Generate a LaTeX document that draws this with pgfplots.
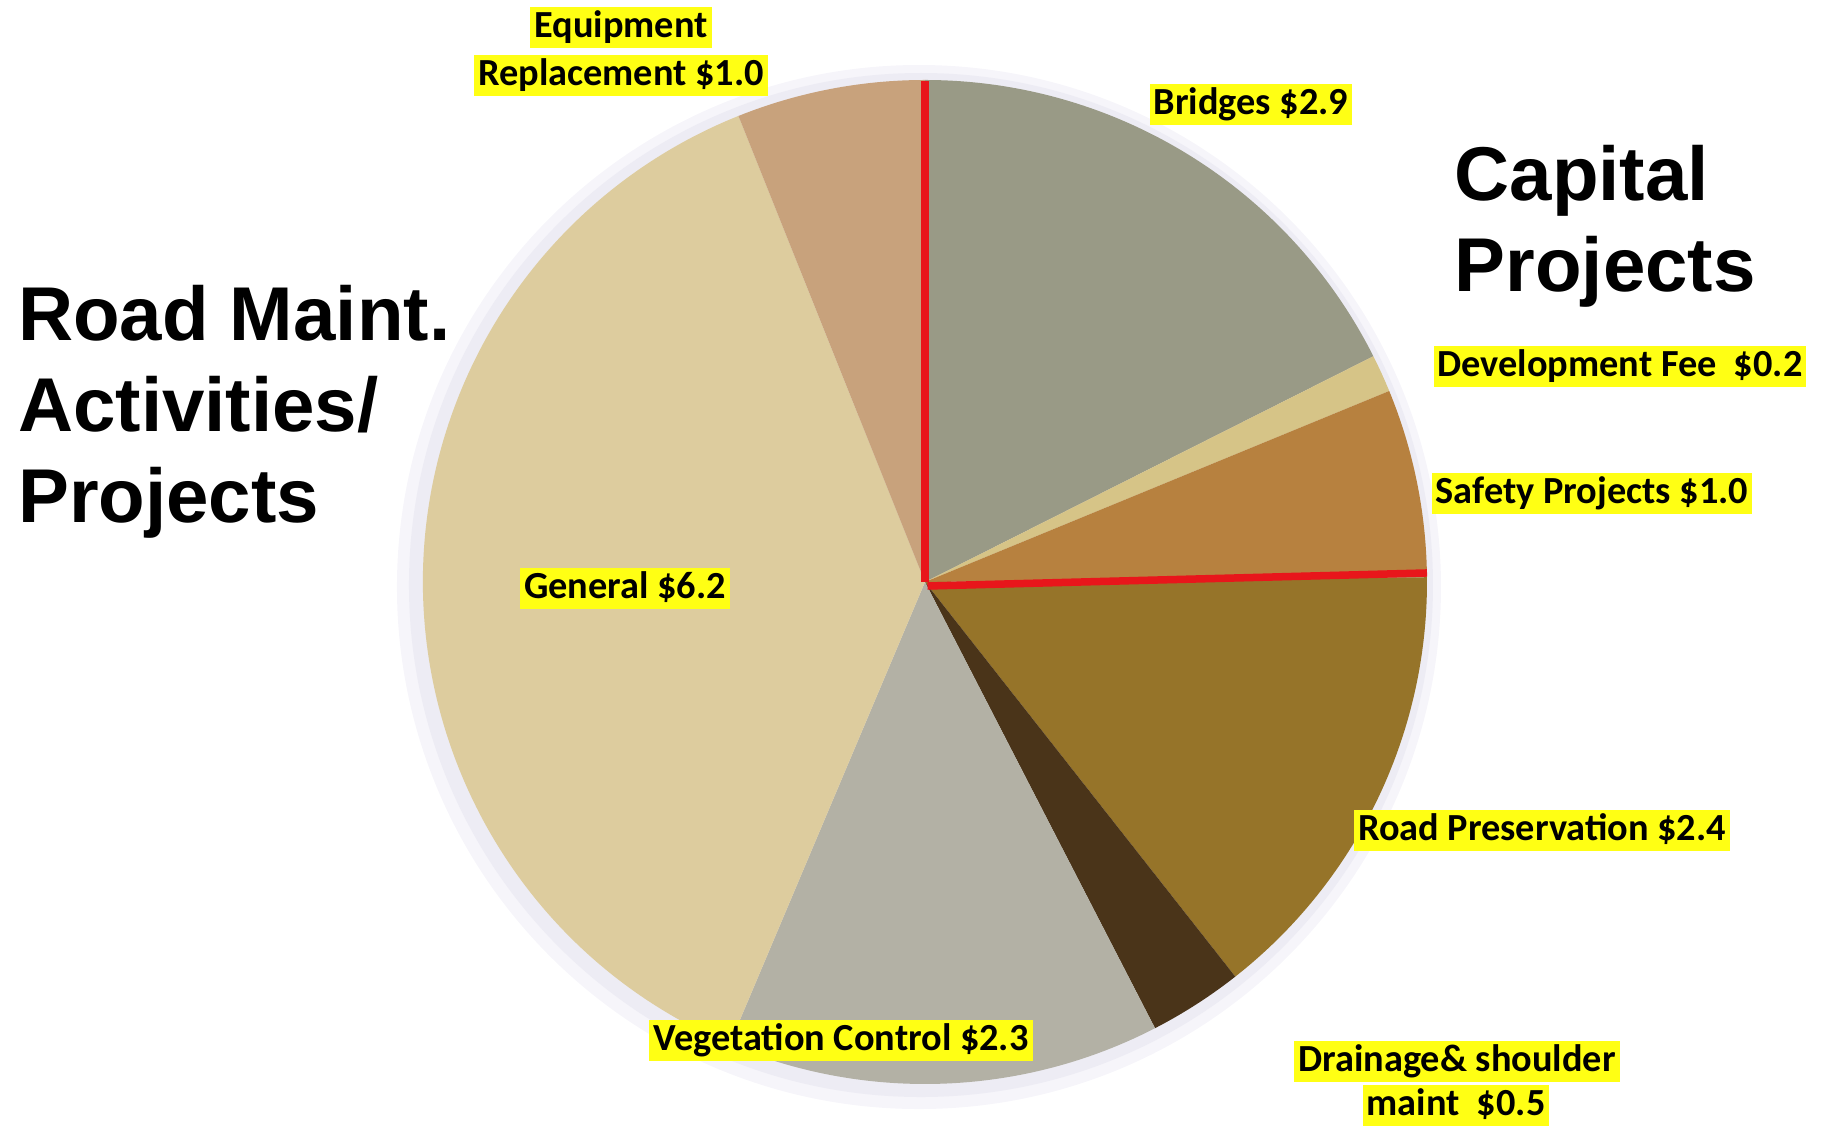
\documentclass[border=0pt]{standalone}
\usepackage{pgfplots}
\pgfplotsset{compat=1.18}
\usepackage{fontspec}
\setmainfont{Carlito}
\newfontfamily\arialfont{Liberation Sans}
\definecolor{cBridges}{HTML}{999A86}
\definecolor{cDev}{HTML}{D6C487}
\definecolor{cSafety}{HTML}{B7813F}
\definecolor{cRoad}{HTML}{967429}
\definecolor{cDrain}{HTML}{4A3419}
\definecolor{cVeg}{HTML}{B3B1A5}
\definecolor{cGeneral}{HTML}{DDCC9E}
\definecolor{cEquip}{HTML}{C8A27C}
\definecolor{hl}{HTML}{FFFF14}
\definecolor{redline}{HTML}{E8161B}
\definecolor{glow1}{HTML}{F6F5FA}
\definecolor{glow2}{HTML}{EDECF4}
% #1 cumulative start, #2 value (total 16.5), #3 colour
\newcommand{\slice}[3]{\fill[#3] (axis cs:0,0) -- ++({90-360*#1/16.5}:5.02cm) arc[start angle={90-360*#1/16.5}, delta angle={-360*#2/16.5}, radius=5.02cm] -- cycle;}
\tikzset{lab/.style={fill=hl, font=\bfseries\fontsize{10.9pt}{13pt}\selectfont, inner xsep=0.4mm, inner ysep=0.15mm, text height=2.9mm, text depth=0.9mm},
  big/.style={font=\arialfont\bfseries\fontsize{21.7pt}{26pt}\selectfont, inner sep=0pt, anchor=base west}}
\begin{document}
\begin{tikzpicture}
\begin{axis}[
  x=5.02cm, y=5.02cm,
  xmin=-1.8426, xmax=1.7988, ymin=-1.0837, ymax=1.1594,
  hide axis, clip=false, scale only axis]
\path (axis cs:-1.8426,-1.0837) rectangle (axis cs:1.7988,1.1594);
% soft shadow
\fill[glow1] (axis cs:-0.012,-0.01) circle[radius=5.22cm];
\fill[glow2] (axis cs:-0.008,-0.006) circle[radius=5.12cm];
% slices: start, value
\slice{0}{2.9}{cBridges}
\slice{2.9}{0.2}{cDev}
\slice{3.1}{1.0}{cSafety}
\slice{4.1}{2.4}{cRoad}
\slice{6.5}{0.5}{cDrain}
\slice{7.0}{2.3}{cVeg}
\slice{9.3}{6.2}{cGeneral}
\slice{15.5}{1.0}{cEquip}
% red dividers
\draw[redline, line width=0.75mm] (axis cs:0,0) -- (axis cs:0,0.997);
\draw[redline, line width=0.75mm] (axis cs:0.005,-0.008) -- (axis cs:1.0,0.018);
% labels
\node[lab] at (axis cs:-0.6056,1.1036) {Equipment};
\node[lab] at (axis cs:-0.6056,1.0080) {Replacement \$1.0};
\node[lab] at (axis cs:0.6494,0.9502) {Bridges \$2.9};
\node[lab] at (axis cs:1.3845,0.4283) {Development Fee\ \ \$0.2};
\node[lab] at (axis cs:1.3287,0.1753) {Safety Projects \$1.0};
\node[lab] at (axis cs:-0.5976,-0.0139) {General \$6.2};
\node[lab] at (axis cs:1.2291,-0.4960) {Road Preservation \$2.4};
\node[lab] at (axis cs:-0.1673,-0.9124) {Vegetation Control \$2.3};
\node[lab] at (axis cs:1.0598,-0.9542) {Drainage\& shoulder};
\node[lab] at (axis cs:1.0578,-1.0438) {maint\ \ \$0.5};
% titles
\node[big] at (axis cs:1.0538,0.7600) {Capital};
\node[big] at (axis cs:1.0538,0.5787) {Projects};
\node[big] at (axis cs:-1.8078,0.4813) {Road Maint.};
\node[big] at (axis cs:-1.8078,0.2999) {Activities/};
\node[big] at (axis cs:-1.8078,0.1189) {Projects};
\end{axis}
\end{tikzpicture}
\end{document}
